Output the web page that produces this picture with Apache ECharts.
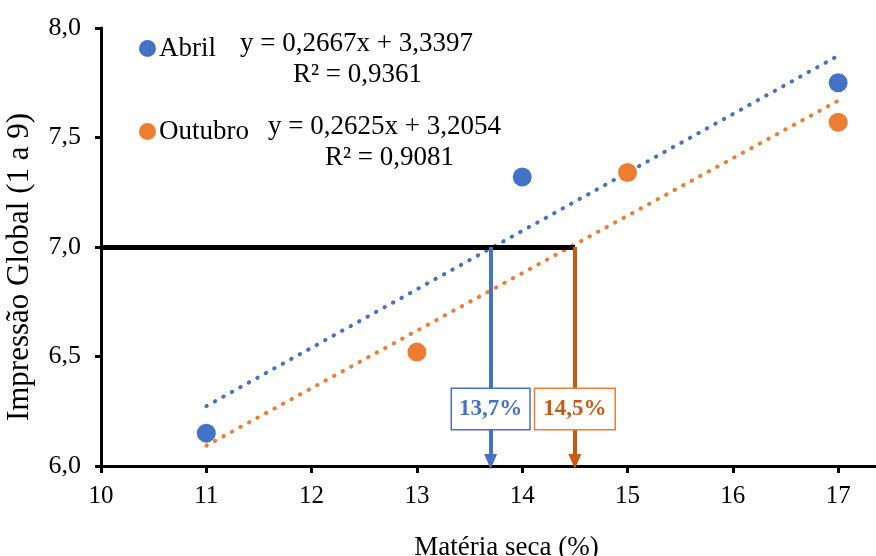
<!DOCTYPE html>
<html>
<head>
<meta charset="utf-8">
<script src="https://cdn.jsdelivr.net/npm/echarts@6/dist/echarts.min.js"></script>
<style>
  html, body { margin: 0; padding: 0; background: #fff; }
  #chart { width: 876px; height: 556px; }
</style>
</head>
<body>
<div id="chart"></div>
<script>
// data
var abrilX = [11, 14, 17]
var abrilY = [6.15, 7.32, 7.75]
var outubroX = [13, 15, 17]
var outubroY = [6.52, 7.34, 7.57]
// trend lines from the printed equations (slope, intercept), drawn from x=11 to x=17
var abrilFit = [0.2667, 3.3397]
var outubroFit = [0.2625, 3.2054]
var fitRange = [11, 17]
var xTicks = [10, 11, 12, 13, 14, 15, 16, 17]
var target = 7.0
var abrilCut = 13.7
var outubroCut = 14.5

var serif = "'Liberation Serif', 'Times New Roman', serif"
var blue = '#4472C4'
var orange = '#ED7D31'
var darkOrange = '#C55A11'

function zip(xs, ys) {
  return xs.map(function (x, i) { return [x, ys[i]] })
}
function fitLine(fit) {
  return fitRange.map(function (x) { return [x, fit[0] * x + fit[1]] })
}
function comma(v) {
  return String(v).replace('.', ',')
}

var chart = echarts.init(document.getElementById('chart'))
chart.setOption({
  animation: false,
  grid: { left: 101, right: 1, top: 28, bottom: 90, containLabel: false, outerBoundsMode: 'none' },
  legend: [
    {
      data: ['Abril'], left: 134, top: 30, icon: 'circle',
      itemWidth: 17, itemHeight: 17, itemGap: 0,
      textStyle: { fontFamily: serif, fontSize: 27, color: '#000', padding: [0, 0, 0, -2] }
    },
    {
      data: ['Outubro'], left: 134, top: 113, icon: 'circle',
      itemWidth: 17, itemHeight: 17, itemGap: 0,
      textStyle: { fontFamily: serif, fontSize: 27, color: '#000', padding: [0, 0, 0, -2] }
    }
  ],
  graphic: [
    { type: 'text', left: 240, top: 30, style: { text: 'y = 0,2667x + 3,3397', font: '27px ' + serif, fill: '#000' } },
    { type: 'text', left: 293, top: 61, style: { text: 'R² = 0,9361', font: '27px ' + serif, fill: '#000' } },
    { type: 'text', left: 268, top: 113, style: { text: 'y = 0,2625x + 3,2054', font: '27px ' + serif, fill: '#000' } },
    { type: 'text', left: 325, top: 144, style: { text: 'R² = 0,9081', font: '27px ' + serif, fill: '#000' } }
  ],
  xAxis: {
    type: 'value',
    min: 10,
    max: 17.35,
    interval: 1,
    name: 'Matéria seca (%)',
    nameLocation: 'middle',
    nameGap: 68,
    nameTextStyle: { fontFamily: serif, fontSize: 27, color: '#000', padding: [0, 0, 0, 37] },
    axisLine: { lineStyle: { color: '#000', width: 3 } },
    axisTick: { show: true, length: 7, lineStyle: { color: '#000', width: 3 }, customValues: xTicks },
    axisLabel: { fontFamily: serif, fontSize: 25, color: '#000', margin: 18, customValues: xTicks },
    splitLine: { show: false }
  },
  yAxis: {
    type: 'value',
    min: 6,
    max: 8,
    interval: 0.5,
    name: 'Impressão Global (1 a 9)',
    nameLocation: 'middle',
    nameRotate: 90,
    nameGap: 66,
    nameTextStyle: { fontFamily: serif, fontSize: 31, color: '#000', padding: [0, 40, 0, 0] },
    axisLine: { show: true, lineStyle: { color: '#000', width: 3 } },
    axisTick: { show: true, length: 6, lineStyle: { color: '#000', width: 3 } },
    axisLabel: {
      fontFamily: serif, fontSize: 26, color: '#000', margin: 20,
      formatter: function (v) { return v.toFixed(1).replace('.', ',') }
    },
    splitLine: { show: false }
  },
  series: [
    {
      name: 'Abril trend', type: 'line', data: fitLine(abrilFit), symbol: 'none', z: 2,
      lineStyle: { color: blue, width: 4, type: [0.5, 9.2], cap: 'round' }
    },
    {
      name: 'Outubro trend', type: 'line', data: fitLine(outubroFit), symbol: 'none', z: 2,
      lineStyle: { color: orange, width: 4, type: [0.5, 9.2], cap: 'round' }
    },
    {
      name: 'guides', type: 'line', data: [], z: 3,
      markLine: {
        silent: true,
        animation: false,
        label: { show: false },
        data: [
          [
            { coord: [10, target], symbol: 'none', lineStyle: { color: '#000', width: 5, type: 'solid' } },
            { coord: [outubroCut, target], symbol: 'none' }
          ],
          [
            { coord: [abrilCut, target], symbol: 'none', lineStyle: { color: blue, width: 4, type: 'solid' } },
            { coord: [abrilCut, 6.02], symbol: 'triangle', symbolSize: [13, 15] }
          ],
          [
            { coord: [outubroCut, target], symbol: 'none', lineStyle: { color: darkOrange, width: 4, type: 'solid' } },
            { coord: [outubroCut, 6.02], symbol: 'triangle', symbolSize: [13, 15] }
          ]
        ]
      }
    },
    {
      name: 'Abril', type: 'scatter', data: zip(abrilX, abrilY), symbolSize: 19, z: 4,
      itemStyle: { color: blue, opacity: 1 }
    },
    {
      name: 'Outubro', type: 'scatter', data: zip(outubroX, outubroY), symbolSize: 19, z: 4,
      itemStyle: { color: orange, opacity: 1 }
    },
    {
      name: 'labels', type: 'scatter', data: [], z: 6,
      markPoint: {
        symbol: 'rect', symbolSize: 1, itemStyle: { color: 'rgba(0,0,0,0)' },
        data: [
          {
            coord: [abrilCut, 6.26],
            label: {
              show: true, position: 'inside', formatter: comma(abrilCut) + '%',
              fontFamily: serif, fontSize: 23, fontWeight: 'bold', color: blue,
              backgroundColor: '#fff', borderColor: blue, borderWidth: 1.5, padding: [9, 7, 8, 7]
            }
          },
          {
            coord: [outubroCut, 6.26],
            label: {
              show: true, position: 'inside', formatter: comma(outubroCut) + '%',
              fontFamily: serif, fontSize: 23, fontWeight: 'bold', color: darkOrange,
              backgroundColor: '#fff', borderColor: orange, borderWidth: 1.5, padding: [9, 8, 8, 8]
            }
          }
        ]
      }
    }
  ]
})
</script>
</body>
</html>
